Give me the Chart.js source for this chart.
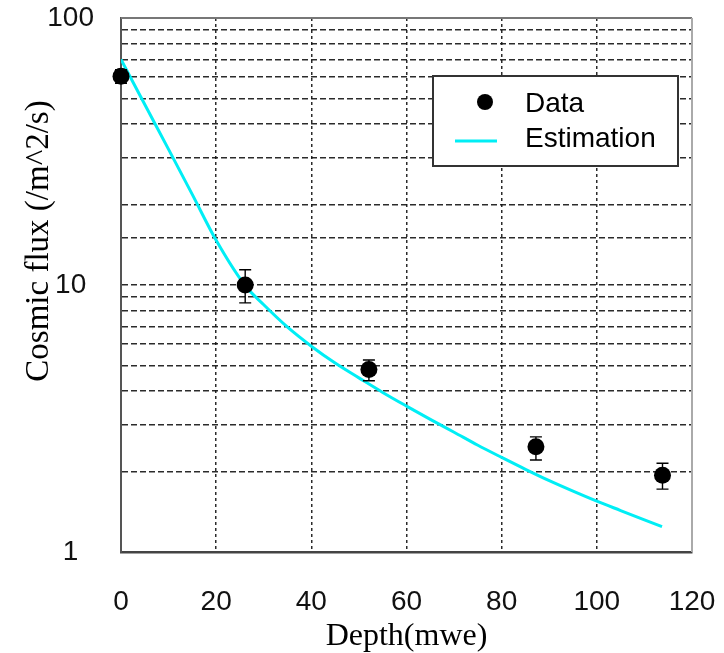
<!DOCTYPE html>
<html>
<head>
<meta charset="utf-8">
<script src="https://cdn.jsdelivr.net/npm/chart.js@4.4.1/dist/chart.umd.min.js"></script>
<style>
  html, body { margin: 0; padding: 0; background: #fff; }
  #wrap { width: 724px; height: 653px; }
</style>
</head>
<body>
<div id="wrap"><canvas id="chart" width="724" height="653"></canvas></div>
<script>
// measured points with error bars
const depths = [0, 26.1, 52.1, 87.2, 113.8];
const fluxes = [60.5, 10, 4.83, 2.48, 1.94];
const fluxHigh = [64, 11.4, 5.24, 2.70, 2.15];
const fluxLow = [57, 8.57, 4.38, 2.21, 1.72];

// estimation curve
const estDepths = [0, 5, 10, 15, 20, 26, 30, 35, 40, 45, 50, 55, 60, 65, 70, 75, 80, 85, 90, 95, 100, 105, 110, 113.7];
const estFluxes = [70, 47.4, 32.2, 21.8, 14.7, 10, 8.43, 6.95, 5.9, 5.1, 4.49, 3.96, 3.52, 3.14, 2.81, 2.51, 2.26, 2.04, 1.85, 1.69, 1.55, 1.43, 1.32, 1.245];

const yLabels = [1, 10, 100];
const seriesNames = ["Data", "Estimation"];
const xTitle = "Depth(mwe)";
const yTitle = "Cosmic flux (/m^2/s)";

const CYAN = "#00eef5";
const SANS = "'Liberation Sans', Arial, sans-serif";
const SERIF = "'Liberation Serif', 'Times New Roman', serif";

Chart.defaults.font.family = SANS;
Chart.defaults.color = "#000";

const errorBars = {
    id: "errorBars",
    afterDatasetsDraw(chart) {
        const { ctx, scales: { x, y } } = chart;
        ctx.save();
        ctx.strokeStyle = "#000";
        ctx.lineWidth = 1.4;
        depths.forEach((d, i) => {
            const px = x.getPixelForValue(d);
            const top = y.getPixelForValue(fluxHigh[i]);
            const bot = y.getPixelForValue(fluxLow[i]);
            ctx.beginPath();
            ctx.moveTo(px, top);
            ctx.lineTo(px, bot);
            ctx.moveTo(px - 6, top);
            ctx.lineTo(px + 6, top);
            ctx.moveTo(px - 6, bot);
            ctx.lineTo(px + 6, bot);
            ctx.stroke();
        });
        ctx.restore();
    },
};

// top and right sides of the box
const frame = {
    id: "frame",
    beforeDatasetsDraw(chart) {
        const { ctx, chartArea: a } = chart;
        ctx.save();
        ctx.lineWidth = 2;
        ctx.strokeStyle = "#777";
        ctx.beginPath();
        ctx.moveTo(a.left, a.top);
        ctx.lineTo(a.right, a.top);
        ctx.stroke();
        ctx.strokeStyle = "#aaa";
        ctx.beginPath();
        ctx.moveTo(a.right, a.top);
        ctx.lineTo(a.right, a.bottom);
        ctx.stroke();
        ctx.restore();
    },
};

const boxLegend = {
    id: "boxLegend",
    afterDraw(chart) {
        const ctx = chart.ctx;
        ctx.save();
        ctx.fillStyle = "#fff";
        ctx.fillRect(433, 76, 245, 90);
        ctx.strokeStyle = "#333";
        ctx.lineWidth = 2;
        ctx.strokeRect(433, 76, 245, 90);

        ctx.fillStyle = "#000";
        ctx.beginPath();
        ctx.arc(485, 102, 8, 0, Math.PI * 2);
        ctx.fill();

        ctx.strokeStyle = CYAN;
        ctx.lineWidth = 3;
        ctx.beginPath();
        ctx.moveTo(455, 141);
        ctx.lineTo(497, 141);
        ctx.stroke();

        ctx.font = "28px " + SANS;
        ctx.textBaseline = "middle";
        ctx.textAlign = "left";
        ctx.fillText(seriesNames[0], 525, 104);
        ctx.fillText(seriesNames[1], 525, 139);
        ctx.restore();
    },
};

const sideTitle = {
    id: "sideTitle",
    afterDraw(chart) {
        const ctx = chart.ctx;
        ctx.save();
        ctx.translate(39, 241);
        ctx.rotate(-Math.PI / 2);
        ctx.font = "33px " + SERIF;
        ctx.fillStyle = "#000";
        ctx.textAlign = "center";
        ctx.textBaseline = "middle";
        ctx.fillText(yTitle, 0, 0);
        ctx.restore();
    },
};

new Chart(document.getElementById("chart"), {
    type: "scatter",
    data: {
        datasets: [
            {
                label: seriesNames[0],
                data: depths.map((d, i) => ({ x: d, y: fluxes[i] })),
                pointRadius: 8.5,
                pointBackgroundColor: "#000",
                pointBorderWidth: 0,
                showLine: false,
                clip: false,
            },
            {
                label: seriesNames[1],
                data: estDepths.map((d, i) => ({ x: d, y: estFluxes[i] })),
                showLine: true,
                pointRadius: 0,
                borderColor: CYAN,
                borderWidth: 3,
                cubicInterpolationMode: "monotone",
            },
        ],
    },
    options: {
        responsive: false,
        animation: false,
        events: [],
        layout: { padding: { left: 0, top: 18, right: 32, bottom: 0 } },
        plugins: {
            legend: { display: false },
            tooltip: { enabled: false },
        },
        scales: {
            x: {
                type: "linear",
                min: 0,
                max: 120,
                afterFit: (s) => {
                    s.height = 101;
                    s.paddingLeft = 0;
                    s.paddingRight = 0;
                },
                grid: {
                    color: "rgba(20, 20, 20, 0.9)",
                    lineWidth: 1.5,
                    drawTicks: false,
                },
                border: { color: "#444", width: 2.5, dash: [3, 3] },
                ticks: {
                    stepSize: 20,
                    padding: 33,
                    color: "#111",
                    font: { size: 28 },
                },
                title: {
                    display: true,
                    text: xTitle,
                    color: "#000",
                    font: { family: SERIF, size: 32, lineHeight: 1 },
                    padding: { top: 0, bottom: 0 },
                },
            },
            y: {
                type: "logarithmic",
                min: 1,
                max: 100,
                afterFit: (s) => {
                    s.width = 121;
                    s.paddingTop = 0;
                    s.paddingBottom = 0;
                },
                grid: {
                    color: "rgba(20, 20, 20, 0.9)",
                    lineWidth: 1.5,
                    drawTicks: false,
                },
                border: { color: "#555", width: 2, dash: [6, 3] },
                ticks: {
                    autoSkip: false,
                    padding: 27,
                    crossAlign: "center",
                    color: "#111",
                    font: { size: 28 },
                    callback: (v) => (yLabels.includes(v) ? String(v) : ""),
                },
            },
        },
    },
    plugins: [frame, errorBars, boxLegend, sideTitle],
});
</script>
</body>
</html>
